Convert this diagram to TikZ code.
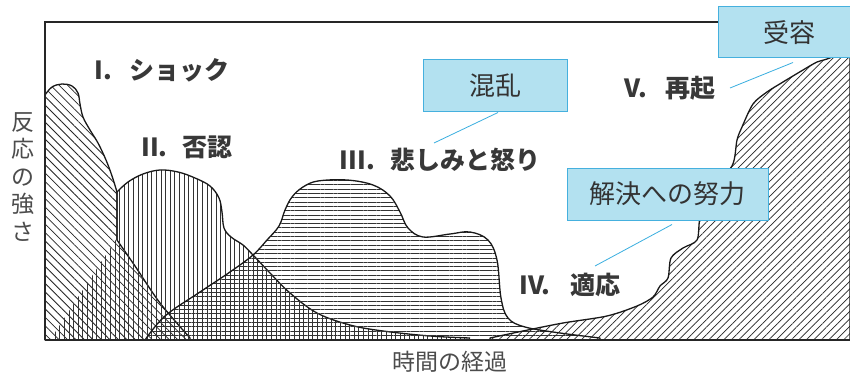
\documentclass[tikz,border=0pt]{standalone}
\usepackage{fontspec}
\setmainfont{Noto Sans CJK JP}
\usetikzlibrary{patterns.meta}
\definecolor{boxfill}{HTML}{B3E1F0}
\definecolor{boxline}{HTML}{45B0DE}
\definecolor{leadc}{HTML}{3AAFE0}
\definecolor{txt}{HTML}{333333}
\begin{document}
\begin{tikzpicture}[x=1pt,y=-1pt,
  shockfill/.style={pattern={Lines[angle=-45,distance=6pt,line width=0.8pt]},pattern color=black!85},
  denialfill/.style={pattern={Lines[angle=90,distance=4.6pt,line width=0.7pt]},pattern color=black!80},
  angerfill/.style={pattern={Lines[angle=0,distance=4.3pt,line width=0.7pt]},pattern color=black!80},
  riseFill/.style={pattern={Lines[angle=45,distance=5.3pt,line width=0.7pt]},pattern color=black!85},
  outline/.style={draw=black!90,line width=1.3pt,line join=round},
  frameline/.style={draw=black!85,line width=1.4pt},
  baseline/.style={draw=black!85,line width=2.4pt},
  lbl/.style={font=\fontsize{25}{30}\selectfont\bfseries,text=black!78,inner sep=0pt},
  axislbl/.style={font=\fontsize{23}{27.5}\selectfont,text=black!70,inner sep=0pt,align=center},
  infobox/.style={draw=boxline,fill=boxfill,line width=1pt,text=txt,
    font=\fontsize{26}{30}\selectfont,inner sep=0pt},
  leader/.style={draw=leadc,line width=0.8pt}]
\useasboundingbox (0,0) rectangle (850,374);
\fill[white] (0,0) rectangle (850,374);

% I. shock
\path[shockfill,outline] (45,340) -- (45,95) -- plot[smooth,tension=0.6] coordinates {(45,95) (52,87) (62,84) (72,86) (78,93) (80,104) (83,117) (90,130) (98,143) (106,160) (112,176) (117,192)} -- (117,240) -- plot[smooth] coordinates {(117,240) (135,266) (160,303) (190,338)} -- (190,340) -- cycle;

% II. denial
\path[denialfill] (50,340) -- (117,238) -- (117,192) -- plot[smooth,tension=0.6] coordinates {(117,192) (128,182) (143,174) (160,170) (178,172) (195,178) (210,186) (219,198) (222,212) (224,228) (231,237) (243,245) (253,255) (270,273) (290,293) (317,313) (350,325) (383,331) (430,336) (470,338)} -- (470,340) -- cycle;
\draw[outline] (117,240) -- (117,192) -- plot[smooth,tension=0.6] coordinates {(117,192) (128,182) (143,174) (160,170) (178,172) (195,178) (210,186) (219,198) (222,212) (224,228) (231,237) (243,245) (253,255) (270,273) (290,293) (317,313) (350,325) (383,331) (430,336) (470,338)};

% III. grief and anger
\path[angerfill,outline] (145,340) -- plot[smooth,tension=0.6] coordinates {(145,340) (165,316) (200,292) (230,272) (253,255) (267,240) (279,226) (285,210) (292,197) (303,187) (318,181) (347,180) (373,185) (390,196) (400,212) (408,228) (423,237) (450,234) (470,232) (488,240) (497,260) (501,298) (508,318) (525,327) (560,333) (600,338)} -- (600,340) -- cycle;

% V. recovery
\path[riseFill,outline] (490,340) -- plot[smooth,tension=0.5] coordinates {(490,338) (523,331) (563,323) (607,316) (637,306) (653,297) (660,286) (668,278) (671,258) (683,248) (697,240) (700,218) (710,190) (732,166) (737,140) (742,127) (753,104) (767,92) (783,82) (803,70) (817,62) (827,59) (850,50)} -- (850,340) -- cycle;

% frame
\draw[frameline] (45,340) -- (45,22) -- (850,22);
\draw[baseline] (45,340) -- (850,340);

% stage labels
\node[lbl] (l1) at (162,70) {I.\hspace{0.7em}ショック};
\node[lbl] (l2) at (187,147) {II.\hspace{0.6em}否認};
\node[lbl] (l3) at (440,160) {III.\hspace{0.6em}悲しみと怒り};
\node[lbl] (l4) at (570,285) {IV.\hspace{0.8em}適応};
\node[lbl] (l5) at (670,88) {V.\hspace{0.7em}再起};

% axes
\node[axislbl] (ya) at (23,177) {反\\応\\の\\強\\さ};
\node[axislbl] (xa) at (450,362) {時間の経過};

% boxes
\node[infobox,minimum width=144pt,minimum height=52pt] (kr) at (495,86) {混乱};
\node[infobox,minimum width=201pt,minimum height=52pt] (kk) at (667.5,194) {解決への努力};
\node[infobox,minimum width=142pt,minimum height=51pt] (jy) at (789,32.5) {受容};

% leaders
\coordinate (e1) at (434,143);
\coordinate (e2) at (730,88);
\coordinate (e3) at (595,266);
\draw[leader] ([xshift=3pt]kr.south) -- (e1);
\draw[leader] ([xshift=4pt,yshift=-4pt]jy.south) -- (e2);
\draw[leader] ([xshift=4.5pt,yshift=-4pt]kk.south) -- (e3);
\end{tikzpicture}
\end{document}
